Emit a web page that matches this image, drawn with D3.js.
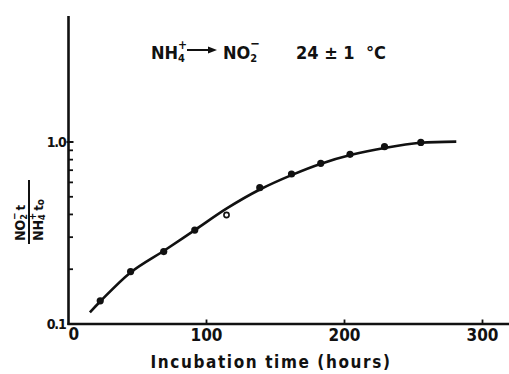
<!DOCTYPE html>
<html>
<head>
<meta charset="utf-8">
<script src="https://cdn.jsdelivr.net/npm/d3@7"></script>
<style>
  html, body { margin: 0; padding: 0; background: #fff; }
  svg text { font-family: "DejaVu Sans Condensed", "DejaVu Sans", sans-serif; fill: #111; }
</style>
</head>
<body>
<svg id="chart" width="509" height="374"></svg>
<script>
// Measured points: incubation time (h) and NO2- / NH4+ ratio
const hours   = [23, 45, 69, 91.5, 138.6, 161.6, 182.8, 204, 229, 255.3];
const ratio   = [0.134, 0.194, 0.25, 0.328, 0.561, 0.667, 0.764, 0.856, 0.942, 0.995];
// Single open-circle observation
const openHours = [114.5];
const openRatio = [0.397];
// Fitted curve through the data
const curveHours = [15.5, 23, 45, 70, 92, 115, 139, 162, 183, 205, 230, 255, 281];
const curveRatio = [0.116, 0.133, 0.192, 0.255, 0.33, 0.433, 0.55, 0.66, 0.76, 0.85, 0.93, 0.99, 1.005];
// Axis ticks
const xTicks = [0, 100, 200, 300];
const xTickLabels = ["0", "100", "200", "300"];
const yMinorTicks = [0.2, 0.3, 0.4, 0.5, 0.6, 0.7, 0.8, 0.9];
const yLabelTicks = [0.1, 1.0];
const yTickLabels = ["0.1", "1.0"];

const svg = d3.select("#chart");
const x = d3.scaleLinear().domain([0, 300]).range([68.5, 482.5]);
const y = d3.scaleLog().domain([0.1, 1]).range([324, 142]);
const yTop = 16;

const ink = "#111";

// Axes lines
svg.append("line").attr("x1", x(0)).attr("x2", x(0)).attr("y1", yTop).attr("y2", y(0.1) + 1)
  .attr("stroke", ink).attr("stroke-width", 2.6);
svg.append("line").attr("x1", x(0) - 1).attr("x2", 509).attr("y1", y(0.1)).attr("y2", y(0.1))
  .attr("stroke", ink).attr("stroke-width", 2.6);

// Y ticks (inside)
svg.selectAll(".ymin").data(yMinorTicks).enter().append("line")
  .attr("x1", x(0)).attr("x2", x(0) + 4.5)
  .attr("y1", d => y(d)).attr("y2", d => y(d))
  .attr("stroke", ink).attr("stroke-width", 1.8);
svg.append("line").attr("x1", x(0) - 2).attr("x2", x(0) + 5)
  .attr("y1", y(1)).attr("y2", y(1)).attr("stroke", ink).attr("stroke-width", 2);

// X ticks (inside)
svg.selectAll(".xt").data(xTicks.slice(1)).enter().append("line")
  .attr("x1", d => x(d)).attr("x2", d => x(d))
  .attr("y1", y(0.1)).attr("y2", y(0.1) - 4.5)
  .attr("stroke", ink).attr("stroke-width", 1.8);

// X tick labels
svg.selectAll(".xl").data(xTicks).enter().append("text")
  .attr("x", (d, i) => i === 0 ? x(d) : x(d))
  .attr("y", (d, i) => i === 0 ? 340 : 341)
  .attr("text-anchor", (d, i) => i === 0 ? "start" : "middle")
  .attr("font-size", 17).attr("font-weight", "bold")
  .text((d, i) => xTickLabels[i]);

// Y tick labels
svg.selectAll(".yl").data(yLabelTicks).enter().append("text")
  .attr("x", x(0) - 3)
  .attr("y", d => y(d) + 5)
  .attr("text-anchor", "end")
  .attr("font-size", 14).attr("font-weight", "bold")
  .attr("letter-spacing", -1.2)
  .text((d, i) => yTickLabels[i]);

// X axis title
svg.append("text").attr("x", 271).attr("y", 368)
  .attr("text-anchor", "middle").attr("font-size", 17).attr("font-weight", "bold")
  .attr("letter-spacing", 1.6)
  .text("Incubation time (hours)");

// Y axis title: fraction NO2-(t) / NH4+(t0), rotated
const yt = svg.append("g").attr("transform", "translate(29,212) rotate(-90)");
yt.append("line").attr("x1", -32).attr("x2", 32).attr("y1", 0).attr("y2", 0)
  .attr("stroke", ink).attr("stroke-width", 2);
const num = yt.append("text").attr("x", -29).attr("y", -4).attr("font-size", 14).attr("font-weight", "bold");
num.append("tspan").text("NO");
num.append("tspan").attr("font-size", 9).attr("dy", 2).text("2");
num.append("tspan").attr("font-size", 10).attr("dx", -6).attr("dy", -9).text("−");
num.append("tspan").attr("font-size", 13).attr("dx", 2).attr("dy", 7).text("t");
const den = yt.append("text").attr("x", -29).attr("y", 14).attr("font-size", 14).attr("font-weight", "bold");
den.append("tspan").text("NH");
den.append("tspan").attr("font-size", 9).attr("dy", 2).text("4");
den.append("tspan").attr("font-size", 10).attr("dx", -6).attr("dy", -9).text("+");
den.append("tspan").attr("font-size", 13).attr("dx", 2).attr("dy", 7).text("t");
den.append("tspan").attr("font-size", 10).attr("dy", 1).text("o");

// Reaction and temperature annotation
const ann = svg.append("g");
const t1 = ann.append("text").attr("x", 151).attr("y", 59).attr("font-size", 18).attr("font-weight", "bold");
t1.append("tspan").text("NH");
t1.append("tspan").attr("font-size", 11).attr("dy", 3).text("4");
t1.append("tspan").attr("font-size", 12).attr("dx", -7).attr("dy", -13).text("+");
ann.append("line").attr("x1", 187).attr("x2", 210).attr("y1", 50).attr("y2", 50)
  .attr("stroke", ink).attr("stroke-width", 2);
ann.append("path").attr("d", "M208,46.5 L217,50 L208,53.5 Z").attr("fill", ink);
const t2 = ann.append("text").attr("x", 223).attr("y", 59).attr("font-size", 18).attr("font-weight", "bold");
t2.append("tspan").text("NO");
t2.append("tspan").attr("font-size", 11).attr("dy", 3).text("2");
t2.append("tspan").attr("font-size", 13).attr("dx", -7).attr("dy", -14).text("−");
ann.append("text").attr("x", 296).attr("y", 59).attr("font-size", 18).attr("font-weight", "bold")
  .attr("xml:space", "preserve").text("24 ± 1  °C");

// Fitted curve
const line = d3.line().x(d => x(d[0])).y(d => y(d[1])).curve(d3.curveCatmullRom.alpha(0.5));
svg.append("path").datum(curveHours.map((h, i) => [h, curveRatio[i]]))
  .attr("d", line).attr("fill", "none").attr("stroke", ink).attr("stroke-width", 2.6);

// Filled points
svg.selectAll(".pt").data(hours.map((h, i) => [h, ratio[i]])).enter().append("circle")
  .attr("cx", d => x(d[0])).attr("cy", d => y(d[1])).attr("r", 3.6).attr("fill", ink);

// Open point
svg.selectAll(".op").data(openHours.map((h, i) => [h, openRatio[i]])).enter().append("circle")
  .attr("cx", d => x(d[0])).attr("cy", d => y(d[1])).attr("r", 2.6)
  .attr("fill", "#fff").attr("stroke", ink).attr("stroke-width", 1.6);
</script>
</body>
</html>
